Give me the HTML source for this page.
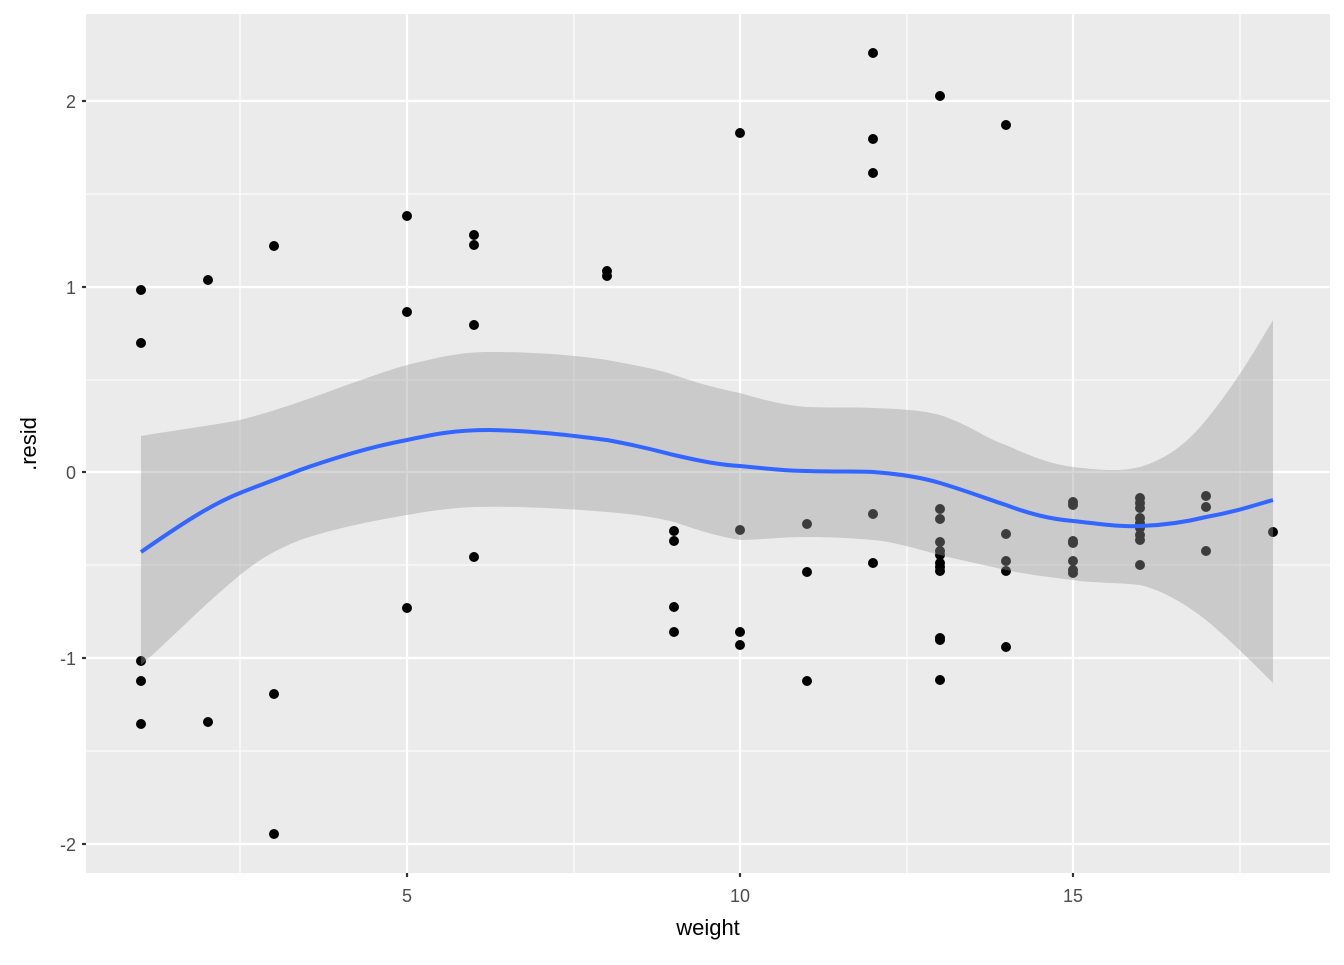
<!DOCTYPE html>
<html><head><meta charset="utf-8"><style>body{margin:0;background:#fff}</style></head><body>
<svg width="1344" height="960" xmlns="http://www.w3.org/2000/svg" font-family="Liberation Sans, sans-serif">
<rect width="1344" height="960" fill="#fff"/>
<rect x="86" y="14" width="1244" height="859" fill="#EBEBEB"/>
<g stroke="#fff" stroke-width="1.1">
<line x1="240" y1="14" x2="240" y2="873"/><line x1="574" y1="14" x2="574" y2="873"/><line x1="907" y1="14" x2="907" y2="873"/><line x1="1240" y1="14" x2="1240" y2="873"/>
<line x1="86" y1="194" x2="1330" y2="194"/><line x1="86" y1="380" x2="1330" y2="380"/><line x1="86" y1="565" x2="1330" y2="565"/><line x1="86" y1="751" x2="1330" y2="751"/>
</g>
<g stroke="#fff" stroke-width="2.2">
<line x1="407" y1="14" x2="407" y2="873"/><line x1="740" y1="14" x2="740" y2="873"/><line x1="1073" y1="14" x2="1073" y2="873"/>
<line x1="86" y1="101" x2="1330" y2="101"/><line x1="86" y1="287" x2="1330" y2="287"/><line x1="86" y1="472" x2="1330" y2="472"/><line x1="86" y1="658" x2="1330" y2="658"/><line x1="86" y1="844" x2="1330" y2="844"/>
</g>
<g fill="#000">
<circle cx="141" cy="290" r="5"/><circle cx="141" cy="343" r="5"/><circle cx="141" cy="661" r="5"/><circle cx="141" cy="681" r="5"/><circle cx="141" cy="724" r="5"/>
<circle cx="208" cy="280" r="5"/><circle cx="208" cy="722" r="5"/>
<circle cx="274" cy="246" r="5"/><circle cx="274" cy="694" r="5"/><circle cx="274" cy="834" r="5"/>
<circle cx="407" cy="216" r="5"/><circle cx="407" cy="312" r="5"/><circle cx="407" cy="608" r="5"/>
<circle cx="474" cy="235" r="5"/><circle cx="474" cy="245" r="5"/><circle cx="474" cy="325" r="5"/><circle cx="474" cy="557" r="5"/>
<circle cx="607" cy="271" r="5"/><circle cx="607" cy="276" r="5"/>
<circle cx="674" cy="531" r="5"/><circle cx="674" cy="541" r="5"/><circle cx="674" cy="607" r="5"/><circle cx="674" cy="632" r="5"/>
<circle cx="740" cy="133" r="5"/><circle cx="740" cy="530" r="5"/><circle cx="740" cy="632" r="5"/><circle cx="740" cy="645" r="5"/>
<circle cx="807" cy="524" r="5"/><circle cx="807" cy="572" r="5"/><circle cx="807" cy="681" r="5"/>
<circle cx="873" cy="53" r="5"/><circle cx="873" cy="139" r="5"/><circle cx="873" cy="173" r="5"/><circle cx="873" cy="514" r="5"/><circle cx="873" cy="563" r="5"/>
<circle cx="940" cy="96" r="5"/><circle cx="940" cy="509" r="5"/><circle cx="940" cy="519" r="5"/><circle cx="940" cy="542" r="5"/><circle cx="940" cy="551" r="5"/><circle cx="940" cy="555" r="5"/><circle cx="940" cy="563" r="5"/><circle cx="940" cy="567" r="5"/><circle cx="940" cy="571" r="5"/><circle cx="940" cy="638" r="5"/><circle cx="940" cy="640" r="5"/><circle cx="940" cy="680" r="5"/>
<circle cx="1006" cy="125" r="5"/><circle cx="1006" cy="534" r="5"/><circle cx="1006" cy="561" r="5"/><circle cx="1006" cy="571" r="5"/><circle cx="1006" cy="647" r="5"/>
<circle cx="1073" cy="502" r="5"/><circle cx="1073" cy="505" r="5"/><circle cx="1073" cy="541" r="5"/><circle cx="1073" cy="543" r="5"/><circle cx="1073" cy="561" r="5"/><circle cx="1073" cy="570" r="5"/><circle cx="1073" cy="573" r="5"/>
<circle cx="1140" cy="498" r="5"/><circle cx="1140" cy="503" r="5"/><circle cx="1140" cy="508" r="5"/><circle cx="1140" cy="518" r="5"/><circle cx="1140" cy="523" r="5"/><circle cx="1140" cy="528" r="5"/><circle cx="1140" cy="535" r="5"/><circle cx="1140" cy="540" r="5"/><circle cx="1140" cy="565" r="5"/>
<circle cx="1206" cy="496" r="5"/><circle cx="1206" cy="507" r="5"/><circle cx="1206" cy="551" r="5"/>
<circle cx="1273" cy="532" r="5"/>
</g>
<path d="M141,436 C190,428 220,424 240,420 C300,405 360,378 407,365 C440,357 460,352 490,352 C540,352 580,356 607,360 C640,366 660,370 674,375 C700,384 720,389 740,393 C770,402 790,406 807,407 C840,408 860,407 873,408 C900,409 920,410 940,415 C970,425 985,438 1006,445 C1030,456 1050,464 1073,467 C1100,470 1120,472 1140,467 C1170,458 1190,440 1206,420 C1235,385 1255,350 1273,320 L1273,683 C1250,660 1230,640 1206,620 C1180,600 1160,590 1140,585 C1110,582 1090,583 1073,580 C1050,577 1030,575 1006,570 C980,564 960,560 940,555 C910,547 890,541 873,540 C850,538 830,537 807,537 C780,537 760,540 740,540 C710,535 690,527 674,522 C650,516 630,514 607,512 C560,508 510,506 474,507 C450,508 430,511 407,515 C360,523 330,530 300,540 C270,552 255,563 240,575 C200,608 170,640 141,665 Z" fill="#999" fill-opacity="0.4"/>
<path d="M141,552 C180,525 210,505 240,493 C265,483 285,476 300,470 C340,456 375,446 407,440 C435,434 455,430 490,430 C540,431 575,436 607,440 C640,446 658,451 674,455 C700,461 720,465 740,466 C770,469 790,471 807,471 C840,472 860,471 873,472 C900,474 920,477 940,483 C970,492 990,500 1006,505 C1030,514 1050,519 1073,521 C1100,524 1120,527 1140,526 C1170,525 1190,521 1206,517 C1235,512 1255,505 1273,500" fill="none" stroke="#3366FF" stroke-width="4"/>
<g stroke="#333" stroke-width="2.2">
<line x1="82" y1="101" x2="86" y2="101"/><line x1="82" y1="287" x2="86" y2="287"/><line x1="82" y1="472" x2="86" y2="472"/><line x1="82" y1="658" x2="86" y2="658"/><line x1="82" y1="844" x2="86" y2="844"/>
<line x1="407" y1="873" x2="407" y2="877"/><line x1="740" y1="873" x2="740" y2="877"/><line x1="1073" y1="873" x2="1073" y2="877"/>
</g>
<g fill="#4D4D4D" font-size="18" text-anchor="end">
<text x="76" y="108">2</text><text x="76" y="294">1</text><text x="76" y="479">0</text><text x="76" y="665">-1</text><text x="76" y="851">-2</text>
</g>
<g fill="#4D4D4D" font-size="18" text-anchor="middle">
<text x="407" y="902">5</text><text x="740" y="902">10</text><text x="1073" y="902">15</text>
</g>
<text x="708" y="935" font-size="22" text-anchor="middle" fill="#000">weight</text>
<text transform="translate(36,444) rotate(-90)" font-size="22" text-anchor="middle" fill="#000">.resid</text>
</svg>
</body></html>
